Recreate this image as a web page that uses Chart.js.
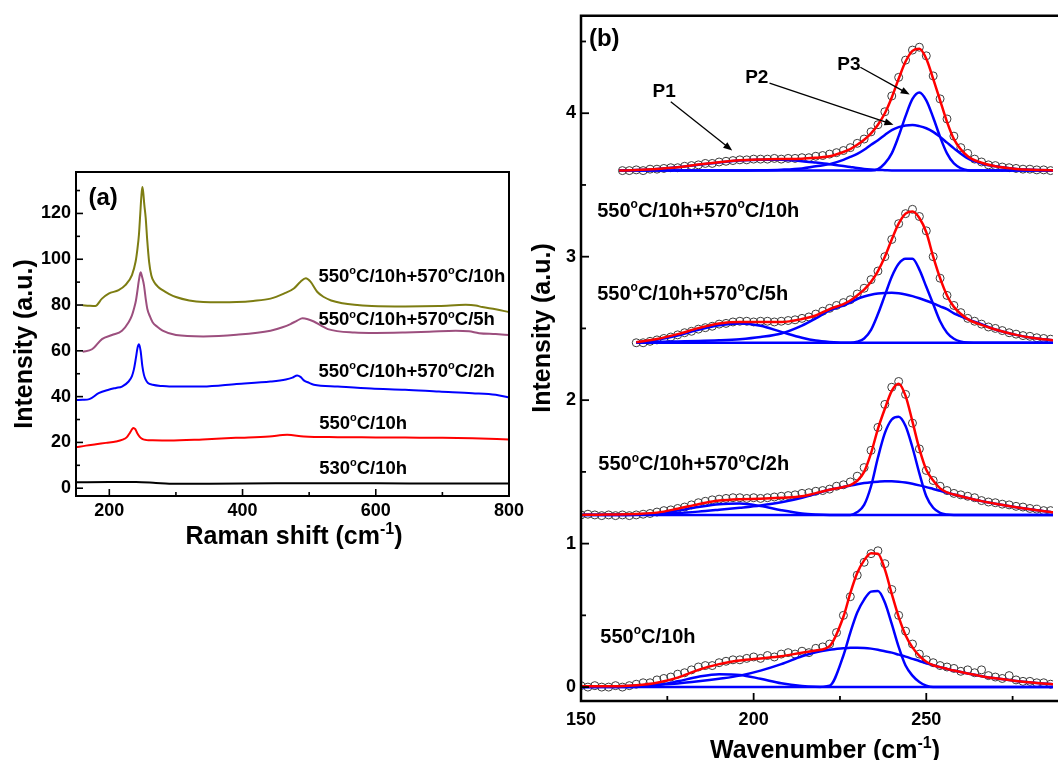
<!DOCTYPE html>
<html>
<head>
<meta charset="utf-8">
<script src="https://cdn.jsdelivr.net/npm/chart.js@4.4.1/dist/chart.umd.min.js"></script>
<style>
html, body { margin: 0; padding: 0; background: #fff; }
#wrap { position: relative; width: 1058px; height: 760px; overflow: hidden; }
canvas { position: absolute; top: 0; }
#ca { left: 0; }
#cb { left: 530px; }
</style>
</head>
<body>
<div id="wrap">
  <canvas id="ca" width="530" height="760"></canvas>
  <canvas id="cb" width="528" height="760"></canvas>
</div>
<script>
const FONT = "'Liberation Sans', Arial, sans-serif";

// ---------- panel (a): Raman spectra ----------
const a530x = [150, 200, 240, 270, 290, 350, 450, 550, 650, 800];
const a530y = [2.6, 2.7, 2.7, 2.3, 2.0, 2.0, 2.2, 2.2, 2.1, 2.1];

const a550x = [150, 165, 180, 195, 210, 220, 226, 230, 233, 236, 239, 242, 246, 250, 256, 265, 290, 340, 390, 440, 467, 492, 543, 600, 644, 700, 745, 800];
const a550y = [17.9, 18.6, 19.2, 19.8, 20.4, 21.2, 22.2, 23.8, 25.2, 26.3, 25.8, 24, 22.3, 21.4, 21.0, 20.9, 20.8, 21.3, 22, 22.6, 23.3, 22.6, 22.3, 22.2, 22.1, 22.0, 21.8, 21.3];

const a2hx = [150, 160, 170, 184, 199, 210, 219, 229, 234, 237, 240, 242.5, 244.5, 247, 249.6, 252, 254.6, 258, 265, 280, 290, 340, 391, 442, 465, 475, 482, 487, 492, 500, 507, 543, 593, 644, 695, 745, 780, 800];
const a2hy = [38.5, 38.6, 38.9, 41.5, 43, 43.8, 44.4, 46.6, 49, 52, 57, 61.5, 62.9, 60, 53.3, 49.5, 47.4, 46, 45.2, 44.6, 44.4, 44.4, 45.5, 46.6, 47.5, 48.3, 49.2, 48.6, 47.1, 46, 45.2, 44.4, 43.5, 43, 42.2, 41.5, 40.8, 39.6];

const a5hx = [160, 174, 189, 204, 219, 229, 234, 237, 240, 242, 244.5, 247, 249.5, 252, 255, 257, 261, 265, 272, 280, 300, 341, 391, 442, 460, 472, 482, 490, 498, 507, 518, 528, 568, 600, 644, 680, 720, 740, 755, 780, 800];
const a5hy = [59.6, 60.7, 65.1, 66.9, 68.8, 72.5, 75.5, 78.4, 82, 85.8, 91, 94.3, 92, 88.7, 82, 78.4, 75, 72.5, 70.5, 68.8, 66.9, 66.3, 67, 68.8, 70.3, 71.7, 73.2, 74.2, 73.8, 72.8, 71, 69.5, 68, 67.8, 68, 68.3, 68.8, 68.5, 67.7, 67.3, 66.9];

const a10hx = [160, 170, 179, 189, 199, 214, 224, 234, 239.5, 242, 244.5, 246.5, 248, 249.6, 251, 252.5, 254.6, 257, 259.7, 263, 267, 273, 280, 290, 300, 320, 341, 366, 391, 416, 442, 462, 477, 487, 495, 502, 512, 522, 533, 550, 568, 594, 644, 695, 735, 750, 760, 780, 800];
const a10hy = [79.9, 79.7, 79.6, 82.8, 85, 86.5, 88.7, 93.1, 99, 104, 110.8, 120, 127, 131.5, 129, 124, 118.2, 108, 99, 93, 90.2, 88, 86.5, 84.8, 83.5, 82, 81.3, 81.2, 81.3, 81.8, 82.8, 85, 87.2, 90.2, 91.7, 90.2, 85.8, 83.5, 82, 80.8, 80.1, 79.6, 79.4, 79.6, 80.1, 79.8, 79.1, 78.2, 76.9];

const aXMinor = [300, 500, 700];
const aYMinor = [10, 30, 50, 70, 90, 110, 130];

// ---------- panel (b): peak fitting ----------
const bOffsets = [0, 1.2, 2.4, 3.6];

// measured points (open circles)
const bDataX = [150, 152, 154, 156, 158, 160, 162, 164, 166, 168, 170, 172, 174, 176, 178, 180, 182, 184, 186, 188, 190, 192, 194, 196, 198, 200, 202, 204, 206, 208, 210, 212, 214, 216, 218, 220, 222, 224, 226, 228, 230, 232, 234, 236, 238, 240, 242, 244, 246, 248, 250, 252, 254, 256, 258, 260, 262, 264, 266, 268, 270, 272, 274, 276, 278, 280, 282, 284, 286];
const g1Data = [0.01, 0, 0.01, 0, 0, 0.01, 0, 0.01, 0.02, 0.03, 0.03, 0.05, 0.06, 0.07, 0.09, 0.1, 0.12, 0.14, 0.15, 0.15, 0.17, 0.18, 0.19, 0.19, 0.2, 0.21, 0.2, 0.22, 0.21, 0.23, 0.24, 0.23, 0.25, 0.24, 0.27, 0.28, 0.3, 0.38, 0.5, 0.63, 0.78, 0.87, 0.93, 0.95, 0.86, 0.68, 0.5, 0.39, 0.3, 0.23, 0.19, 0.17, 0.15, 0.14, 0.13, 0.11, 0.12, 0.1, 0.12, 0.08, 0.07, 0.06, 0.08, 0.05, 0.04, 0.04, 0.03, 0.03, 0.02];
const g2Data = [0, 0.005, 0, -0.005, 0, -0.005, 0, -0.005, 0, 0.005, 0.01, 0.02, 0.03, 0.035, 0.045, 0.055, 0.07, 0.085, 0.095, 0.105, 0.11, 0.115, 0.12, 0.12, 0.115, 0.12, 0.115, 0.12, 0.125, 0.13, 0.135, 0.14, 0.15, 0.155, 0.165, 0.17, 0.18, 0.2, 0.21, 0.23, 0.27, 0.33, 0.45, 0.61, 0.77, 0.89, 0.93, 0.84, 0.64, 0.46, 0.31, 0.24, 0.2, 0.17, 0.15, 0.14, 0.13, 0.12, 0.1, 0.09, 0.085, 0.075, 0.07, 0.06, 0.055, 0.045, 0.04, 0.03, 0.03];
const g3Data = [null, null, null, null, null, null, null, null, 0, 0, 0.01, 0.02, 0.03, 0.04, 0.055, 0.07, 0.08, 0.095, 0.105, 0.115, 0.13, 0.135, 0.145, 0.15, 0.15, 0.145, 0.15, 0.15, 0.145, 0.15, 0.155, 0.16, 0.17, 0.18, 0.2, 0.22, 0.24, 0.26, 0.28, 0.3, 0.34, 0.38, 0.44, 0.5, 0.6, 0.72, 0.83, 0.9, 0.93, 0.88, 0.78, 0.6, 0.45, 0.33, 0.26, 0.21, 0.17, 0.15, 0.13, 0.11, 0.1, 0.085, 0.07, 0.06, 0.05, 0.045, 0.035, 0.03, 0.025];
const g4Data = [null, null, null, null, null, null, 0, 0, 0.005, 0, 0.01, 0.01, 0.015, 0.02, 0.02, 0.03, 0.035, 0.04, 0.05, 0.05, 0.06, 0.065, 0.07, 0.075, 0.075, 0.08, 0.08, 0.08, 0.085, 0.08, 0.085, 0.085, 0.09, 0.09, 0.1, 0.105, 0.115, 0.125, 0.14, 0.16, 0.19, 0.22, 0.27, 0.32, 0.41, 0.52, 0.65, 0.77, 0.84, 0.86, 0.8, 0.66, 0.5, 0.36, 0.24, 0.16, 0.12, 0.08, 0.06, 0.04, 0.035, 0.025, 0.02, 0.015, 0.01, 0.01, 0.005, 0.005, 0];

// fitted curves (cumulative fit and the three peaks P1, P2, P3)
const bFitX = [150, 155, 161, 166, 172, 178, 184, 190, 196, 202, 208, 214, 218, 222, 226, 228, 230, 232, 234, 236, 238, 240, 242, 244, 246, 248, 250, 252, 254, 256, 258, 262, 266, 270, 276, 282, 288];

const g1Fit = [0.005, 0.005, 0.006, 0.012, 0.03, 0.066, 0.12, 0.16, 0.185, 0.2, 0.215, 0.24, 0.255, 0.285, 0.49, 0.655, 0.795, 0.883, 0.933, 0.93, 0.82, 0.65, 0.49, 0.362, 0.277, 0.217, 0.176, 0.152, 0.139, 0.127, 0.115, 0.094, 0.076, 0.061, 0.043, 0.029, 0.018];
const g1P1 = [0, 0, 0, 0.002, 0.013, 0.04, 0.072, 0.09, 0.085, 0.058, 0.027, 0.008, 0.002, 0, 0, 0, 0, 0, 0, 0, 0, 0, 0, 0, 0, 0, 0, 0, 0, 0, 0, 0, 0, 0, 0, 0, 0];
const g1P2 = [0, 0.002, 0.005, 0.009, 0.016, 0.025, 0.04, 0.058, 0.08, 0.115, 0.16, 0.215, 0.243, 0.26, 0.27, 0.274, 0.275, 0.273, 0.268, 0.26, 0.25, 0.24, 0.226, 0.212, 0.197, 0.182, 0.166, 0.152, 0.139, 0.127, 0.115, 0.094, 0.076, 0.061, 0.043, 0.029, 0.018];
const g1P3 = [0, 0, 0, 0, 0, 0, 0, 0, 0, 0, 0, 0, 0, 0.01, 0.22, 0.38, 0.52, 0.61, 0.665, 0.67, 0.59, 0.44, 0.28, 0.15, 0.08, 0.035, 0.01, 0, 0, 0, 0, 0, 0, 0, 0, 0, 0];

const g2Fit = [0, 0.002, 0.003, 0.007, 0.016, 0.043, 0.075, 0.1, 0.11, 0.113, 0.12, 0.13, 0.152, 0.175, 0.195, 0.208, 0.238, 0.3, 0.43, 0.6, 0.74, 0.865, 0.915, 0.83, 0.65, 0.46, 0.315, 0.24, 0.185, 0.157, 0.142, 0.118, 0.096, 0.078, 0.054, 0.033, 0.015];
const g2P1 = [0, 0, 0, 0.002, 0.008, 0.03, 0.055, 0.075, 0.08, 0.062, 0.033, 0.01, 0.003, 0, 0, 0, 0, 0, 0, 0, 0, 0, 0, 0, 0, 0, 0, 0, 0, 0, 0, 0, 0, 0, 0, 0, 0];
const g2P2 = [0, 0.002, 0.003, 0.005, 0.008, 0.013, 0.023, 0.036, 0.05, 0.066, 0.088, 0.12, 0.148, 0.175, 0.195, 0.205, 0.214, 0.222, 0.228, 0.232, 0.235, 0.235, 0.232, 0.226, 0.217, 0.206, 0.194, 0.181, 0.168, 0.155, 0.142, 0.118, 0.096, 0.078, 0.054, 0.033, 0.015];
const g2P3 = [0, 0, 0, 0, 0, 0, 0, 0, 0, 0, 0, 0, 0, 0, 0, 0, 0.02, 0.07, 0.2, 0.4, 0.57, 0.665, 0.685, 0.62, 0.47, 0.29, 0.13, 0.05, 0.015, 0.003, 0, 0, 0, 0, 0, 0, 0];

const g3Fit = [null, null, null, 0.004, 0.026, 0.06, 0.102, 0.135, 0.145, 0.145, 0.145, 0.165, 0.19, 0.235, 0.27, 0.295, 0.33, 0.37, 0.425, 0.5, 0.6, 0.72, 0.83, 0.9, 0.915, 0.87, 0.77, 0.6, 0.45, 0.33, 0.25, 0.165, 0.125, 0.092, 0.055, 0.03, 0.015];
const g3P1 = [null, null, null, 0, 0.02, 0.05, 0.09, 0.122, 0.134, 0.118, 0.076, 0.035, 0.015, 0.005, 0, 0, 0, 0, 0, 0, 0, 0, 0, 0, 0, 0, 0, 0, 0, 0, 0, 0, 0, 0, 0, 0, 0];
const g3P2 = [null, null, null, 0.004, 0.006, 0.009, 0.012, 0.017, 0.025, 0.04, 0.065, 0.12, 0.17, 0.225, 0.26, 0.28, 0.305, 0.322, 0.335, 0.343, 0.347, 0.348, 0.345, 0.337, 0.325, 0.31, 0.293, 0.274, 0.254, 0.234, 0.205, 0.165, 0.13, 0.092, 0.055, 0.03, 0.015];
const g3P3 = [null, null, null, 0, 0, 0, 0, 0, 0, 0, 0, 0, 0, 0, 0, 0, 0.008, 0.03, 0.09, 0.2, 0.33, 0.46, 0.55, 0.585, 0.585, 0.51, 0.39, 0.27, 0.15, 0.07, 0.028, 0.002, 0, 0, 0, 0, 0];

const g4Fit = [null, null, 0, 0.004, 0.012, 0.024, 0.042, 0.058, 0.072, 0.078, 0.081, 0.083, 0.09, 0.1, 0.13, 0.15, 0.18, 0.215, 0.26, 0.32, 0.4, 0.51, 0.64, 0.76, 0.835, 0.85, 0.78, 0.64, 0.49, 0.34, 0.22, 0.1, 0.055, 0.03, 0.012, 0.005, 0];
const g4P1 = [null, null, 0, 0.004, 0.012, 0.023, 0.04, 0.056, 0.07, 0.076, 0.075, 0.066, 0.056, 0.045, 0.032, 0.025, 0.018, 0.012, 0.008, 0.005, 0.003, 0.001, 0, 0, 0, 0, 0, 0, 0, 0, 0, 0, 0, 0, 0, 0, 0];
const g4P2 = [null, null, 0, 0, 0, 0, 0, 0.001, 0.001, 0.002, 0.006, 0.015, 0.03, 0.045, 0.075, 0.095, 0.116, 0.145, 0.18, 0.212, 0.248, 0.282, 0.303, 0.315, 0.318, 0.31, 0.295, 0.27, 0.235, 0.195, 0.155, 0.085, 0.05, 0.03, 0.012, 0.005, 0];
const g4P3 = [null, null, 0, 0, 0, 0, 0, 0, 0, 0, 0, 0, 0, 0, 0, 0, 0, 0, 0, 0.01, 0.05, 0.12, 0.24, 0.38, 0.5, 0.545, 0.49, 0.37, 0.235, 0.12, 0.05, 0.003, 0, 0, 0, 0, 0];

const bXMinor = [175, 225, 275];
const bYMinor = [0.5, 1.5, 2.5, 3.5, 4.5];

// ---------- helpers ----------
const pts = (xs, ys, off = 0) => xs.map((x, i) => ({ x: x, y: ys[i] == null ? null : ys[i] + off }));

// text with ^superscript^ parts
function rich(ctx, str, x, y, size, align) {
  const segs = str.split('^');
  const fN = 'bold ' + size + 'px ' + FONT;
  const fS = 'bold ' + Math.round(size * 0.62) + 'px ' + FONT;
  let w = 0;
  segs.forEach((s, i) => { ctx.font = i % 2 ? fS : fN; w += ctx.measureText(s).width; });
  let cx = align === 'center' ? x - w / 2 : x;
  ctx.textAlign = 'left';
  ctx.textBaseline = 'alphabetic';
  segs.forEach((s, i) => {
    ctx.font = i % 2 ? fS : fN;
    ctx.fillText(s, cx, i % 2 ? y - size * 0.42 : y);
    cx += ctx.measureText(s).width;
  });
}

function arrow(ctx, x1, y1, x2, y2) {
  const ang = Math.atan2(y2 - y1, x2 - x1);
  const L = 9, W = 3.5;
  ctx.beginPath();
  ctx.moveTo(x1, y1);
  ctx.lineTo(x2 - L * 0.8 * Math.cos(ang), y2 - L * 0.8 * Math.sin(ang));
  ctx.stroke();
  ctx.beginPath();
  ctx.moveTo(x2, y2);
  ctx.lineTo(x2 - L * Math.cos(ang) + W * Math.sin(ang), y2 - L * Math.sin(ang) - W * Math.cos(ang));
  ctx.lineTo(x2 - L * Math.cos(ang) - W * Math.sin(ang), y2 - L * Math.sin(ang) + W * Math.cos(ang));
  ctx.closePath();
  ctx.fill();
}

// frame, inward ticks, labels
const deco = {
  id: 'deco',
  afterDraw(chart, args, o) {
    const ctx = chart.ctx, ca = chart.chartArea;
    const xs = chart.scales.x, ys = chart.scales.y;
    ctx.save();
    ctx.strokeStyle = '#000';
    ctx.fillStyle = '#000';
    ctx.lineWidth = o.frameWidth;
    ctx.beginPath();
    if (o.openRight) {
      ctx.moveTo(ca.right + 5, ca.top);
      ctx.lineTo(ca.left, ca.top);
      ctx.lineTo(ca.left, ca.bottom);
      ctx.lineTo(ca.right + 5, ca.bottom);
    } else {
      ctx.rect(ca.left, ca.top, ca.right - ca.left, ca.bottom - ca.top);
    }
    ctx.stroke();

    ctx.lineWidth = o.tickWidth;
    const xt = (v, len) => { const p = xs.getPixelForValue(v); ctx.beginPath(); ctx.moveTo(p, ca.bottom); ctx.lineTo(p, ca.bottom - len); ctx.stroke(); };
    const yt = (v, len) => { const p = ys.getPixelForValue(v); ctx.beginPath(); ctx.moveTo(ca.left, p); ctx.lineTo(ca.left + len, p); ctx.stroke(); };
    xs.ticks.forEach(t => xt(t.value, o.major));
    ys.ticks.forEach(t => yt(t.value, o.major));
    o.minorX.forEach(v => xt(v, o.minor));
    o.minorY.forEach(v => yt(v, o.minor));

    (o.notes || []).forEach(n => {
      const px = xs.getPixelForValue(n.x), py = ys.getPixelForValue(n.y);
      rich(ctx, n.text, px, py + n.size * 0.36, n.size, n.align || 'left');
    });

    ctx.lineWidth = 1.3;
    (o.arrows || []).forEach(a => {
      arrow(ctx, xs.getPixelForValue(a.from[0]), ys.getPixelForValue(a.from[1]),
                 xs.getPixelForValue(a.to[0]), ys.getPixelForValue(a.to[1]));
    });

    (o.titles || []).forEach(t => {
      ctx.save();
      ctx.translate(t.x, t.y);
      if (t.rot) ctx.rotate(-Math.PI / 2);
      rich(ctx, t.text, 0, 0, t.size, 'center');
      ctx.restore();
    });
    ctx.restore();
  }
};

Chart.defaults.font.family = FONT;
Chart.defaults.font.size = 18;
Chart.defaults.font.weight = 'bold';
Chart.defaults.color = '#000';

const plainScale = (extra) => Object.assign({
  type: 'linear',
  grid: { display: false, drawTicks: false, tickLength: 0 },
  border: { display: false }
}, extra);

const spec = (x, y, color) => ({
  data: pts(x, y), borderColor: color, borderWidth: 2, pointRadius: 0,
  cubicInterpolationMode: 'monotone', fill: false
});

new Chart(document.getElementById('ca'), {
  type: 'line',
  data: {
    datasets: [
      spec(a530x, a530y, '#000000'),
      spec(a550x, a550y, '#ff0000'),
      spec(a2hx, a2hy, '#0000ff'),
      spec(a5hx, a5hy, '#9c4f7e'),
      spec(a10hx, a10hy, '#7d7d12')
    ]
  },
  options: {
    responsive: false, animation: false, events: [],
    layout: { padding: { left: 0, top: 172, right: 21, bottom: 224 } },
    scales: {
      x: plainScale({ min: 150, max: 800, ticks: { stepSize: 200, includeBounds: false, padding: 4, maxRotation: 0 },
        afterFit: s => { s.height = 40; } }),
      y: plainScale({ min: -3.4, max: 138.1, ticks: { stepSize: 20, includeBounds: false, padding: 5 },
        afterFit: s => { s.width = 76; } })
    },
    plugins: {
      legend: { display: false }, tooltip: { enabled: false },
      deco: {
        frameWidth: 2, tickWidth: 1.6, major: 7, minor: 4,
        minorX: aXMinor, minorY: aYMinor,
        notes: [
          { text: '(a)', x: 168.8, y: 127.4, size: 24 },
          { text: '550^o^C/10h+570^o^C/10h', x: 514, y: 93.1, size: 18.5 },
          { text: '550^o^C/10h+570^o^C/5h', x: 514, y: 74, size: 18.5 },
          { text: '550^o^C/10h+570^o^C/2h', x: 514, y: 51.5, size: 18.5 },
          { text: '550^o^C/10h', x: 515, y: 28.9, size: 18.5 },
          { text: '530^o^C/10h', x: 515, y: 9.0, size: 18.5 }
        ],
        titles: [
          { text: 'Intensity (a.u.)', x: 32, y: 344, size: 25, rot: true },
          { text: 'Raman shift (cm^-1^)', x: 294, y: 544, size: 25 }
        ]
      }
    }
  },
  plugins: [deco]
});

// panel (b)
const bSets = [];
const groups = [
  [g1Data, g1Fit, g1P1, g1P2, g1P3],
  [g2Data, g2Fit, g2P1, g2P2, g2P3],
  [g3Data, g3Fit, g3P1, g3P2, g3P3],
  [g4Data, g4Fit, g4P1, g4P2, g4P3]
];
groups.forEach((g, k) => {
  const off = bOffsets[k];
  bSets.push({ data: pts(bDataX, g[0], off), showLine: false, pointRadius: 4, pointBorderWidth: 1,
    pointBorderColor: '#3c3c3c', pointBackgroundColor: 'rgba(0,0,0,0)', order: 3 });
  [g[2], g[3], g[4]].forEach(p => bSets.push({ data: pts(bFitX, p, off), borderColor: '#0000ff', borderWidth: 2.5,
    pointRadius: 0, cubicInterpolationMode: 'monotone', order: 2 }));
  bSets.push({ data: pts(bFitX, g[1], off), borderColor: '#ff0000', borderWidth: 2.5,
    pointRadius: 0, cubicInterpolationMode: 'monotone', order: 1 });
});

new Chart(document.getElementById('cb'), {
  type: 'line',
  data: { datasets: bSets },
  options: {
    responsive: false, animation: false, events: [],
    layout: { padding: { left: 0, top: 12, right: 0, bottom: 19 } },
    scales: {
      x: plainScale({ min: 150, max: 286.7, ticks: { stepSize: 50, includeBounds: false, padding: 8, maxRotation: 0 },
        afterFit: s => { s.height = 40; } }),
      y: plainScale({ min: -0.097, max: 4.679, ticks: { stepSize: 1, includeBounds: false, padding: 5 },
        afterFit: s => { s.width = 51; } })
    },
    plugins: {
      legend: { display: false }, tooltip: { enabled: false },
      deco: {
        frameWidth: 2.5, tickWidth: 1.8, major: 8, minor: 5, openRight: true,
        minorX: bXMinor, minorY: bYMinor,
        notes: [
          { text: '(b)', x: 152.3, y: 4.53, size: 24 },
          { text: '550^o^C/10h+570^o^C/10h', x: 154.7, y: 3.33, size: 20 },
          { text: '550^o^C/10h+570^o^C/5h', x: 154.7, y: 2.75, size: 20 },
          { text: '550^o^C/10h+570^o^C/2h', x: 155, y: 1.562, size: 20 },
          { text: '550^o^C/10h', x: 155.6, y: 0.36, size: 20 },
          { text: 'P1', x: 174.1, y: 4.16, size: 19, align: 'center' },
          { text: 'P2', x: 200.9, y: 4.26, size: 19, align: 'center' },
          { text: 'P3', x: 227.6, y: 4.35, size: 19, align: 'center' }
        ],
        arrows: [
          { from: [176, 4.08], to: [193.8, 3.74] },
          { from: [204.6, 4.21], to: [240.5, 3.92] },
          { from: [230.9, 4.32], to: [245.2, 4.13] }
        ],
        titles: [
          { text: 'Intensity (a.u.)', x: 20, y: 328, size: 25, rot: true },
          { text: 'Wavenumber (cm^-1^)', x: 295, y: 758, size: 25 }
        ]
      }
    }
  },
  plugins: [deco]
});
</script>
</body>
</html>
